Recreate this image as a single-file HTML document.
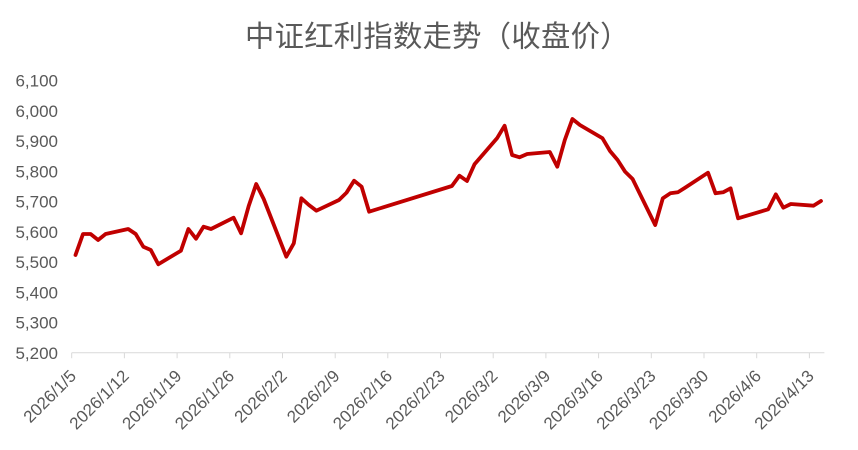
<!DOCTYPE html>
<html>
<head>
<meta charset="utf-8">
<style>
html,body{margin:0;padding:0;background:#fff;}
svg{display:block;}
</style>
</head>
<body>
<svg width="858" height="450" viewBox="0 0 858 450" xmlns="http://www.w3.org/2000/svg">
<rect width="858" height="450" fill="#fff"/>
<text x="245" y="46.5" font-family="'Liberation Sans','Noto Sans CJK SC',sans-serif" font-size="29.3" letter-spacing="0.3" fill="#595959">中证红利指数走势（收盘价）</text>

<g font-family="'Liberation Sans',sans-serif" font-size="17" fill="#595959" text-anchor="end">
<text x="58" y="359">5,200</text>
<text x="58" y="328.7">5,300</text>
<text x="58" y="298.4">5,400</text>
<text x="58" y="268.2">5,500</text>
<text x="58" y="237.9">5,600</text>
<text x="58" y="207.6">5,700</text>
<text x="58" y="177.3">5,800</text>
<text x="58" y="147">5,900</text>
<text x="58" y="116.8">6,000</text>
<text x="58" y="86.5">6,100</text>
</g>

<g stroke="#d9d9d9" stroke-width="1" fill="none">
<line x1="71.7" y1="352.8" x2="824.4" y2="352.8"/>
<path d="M71.7 352.8v5.5M124.4 352.8v5.5M177.1 352.8v5.5M229.8 352.8v5.5M282.5 352.8v5.5M335.2 352.8v5.5M387.8 352.8v5.5M440.5 352.8v5.5M493.2 352.8v5.5M545.9 352.8v5.5M598.6 352.8v5.5M651.3 352.8v5.5M704 352.8v5.5M756.7 352.8v5.5M809.4 352.8v5.5"/>
</g>

<g font-family="'Liberation Sans',sans-serif" font-size="17" fill="#595959" text-anchor="end">
<text transform="translate(77.2,377) rotate(-45)">2026/1/5</text>
<text transform="translate(129.9,377) rotate(-45)">2026/1/12</text>
<text transform="translate(182.6,377) rotate(-45)">2026/1/19</text>
<text transform="translate(235.3,377) rotate(-45)">2026/1/26</text>
<text transform="translate(288,377) rotate(-45)">2026/2/2</text>
<text transform="translate(340.7,377) rotate(-45)">2026/2/9</text>
<text transform="translate(393.3,377) rotate(-45)">2026/2/16</text>
<text transform="translate(446,377) rotate(-45)">2026/2/23</text>
<text transform="translate(498.7,377) rotate(-45)">2026/3/2</text>
<text transform="translate(551.4,377) rotate(-45)">2026/3/9</text>
<text transform="translate(604.1,377) rotate(-45)">2026/3/16</text>
<text transform="translate(656.8,377) rotate(-45)">2026/3/23</text>
<text transform="translate(709.5,377) rotate(-45)">2026/3/30</text>
<text transform="translate(762.2,377) rotate(-45)">2026/4/6</text>
<text transform="translate(814.9,377) rotate(-45)">2026/4/13</text>
</g>

<polyline fill="none" stroke="#C00000" stroke-width="3.8" stroke-linejoin="round" stroke-linecap="round"
points="75.5,255 83,234 90.6,234 98.1,240 105.6,234 128.2,229 135.7,234 143.3,246.7 150.8,250 158.3,264.3 180.9,250.7 188.4,229 196,238.7 203.5,226.7 211,229 233.6,217.7 241.1,233.3 248.7,206 256.2,184 263.7,199 286.3,256.7 293.8,243.3 301.4,198.3 308.9,205 316.4,210.7 339,200 346.5,192.7 354.1,180.7 361.6,186.7 369.1,211.7 451.9,186 459.4,175.7 467,181 474.5,164.3 497,138.3 504.6,125.7 512.1,155 519.6,157.3 527.2,154 549.8,152 557.3,166.7 564.8,140 572.4,119 579.9,125 602.5,138.3 610,151 617.6,160 625.1,171.7 632.6,179 655.2,225 662.8,198.3 670.3,193.3 677.8,192.3 685.4,187.5 708,172.7 715.5,193.3 723.1,192.3 730.6,188.3 738.1,218.3 768.2,209.3 775.8,194.3 783.3,207.7 790.8,204 813.4,205.7 821,201"/>
</svg>
</body>
</html>
